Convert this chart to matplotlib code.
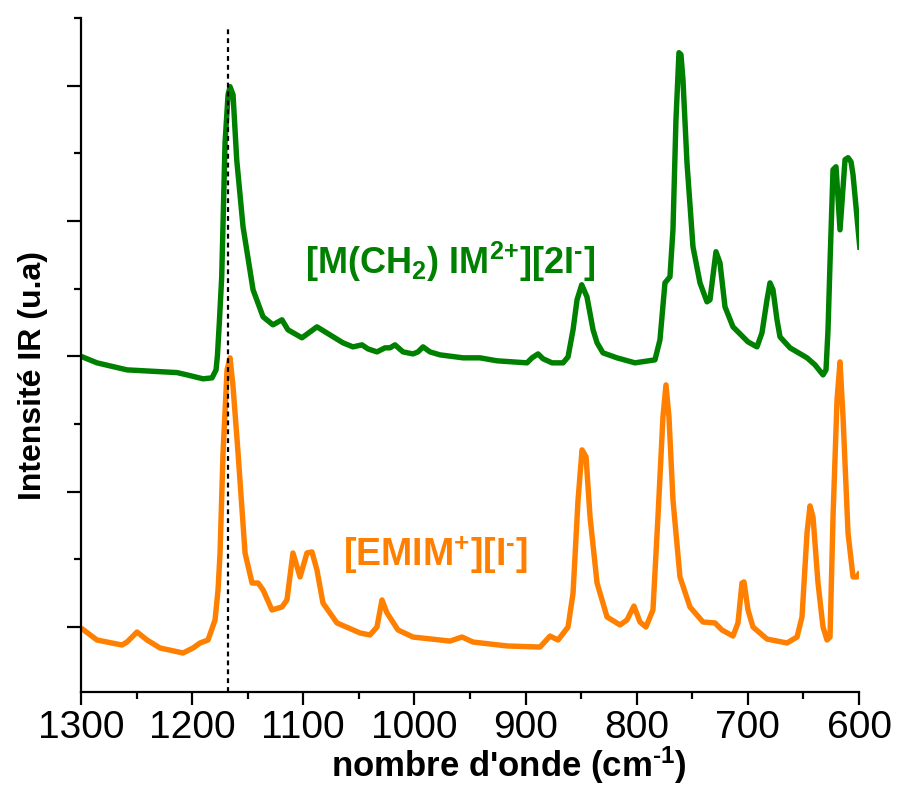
import matplotlib
matplotlib.use("Agg")
import matplotlib.pyplot as plt
from matplotlib.ticker import MultipleLocator, NullFormatter

plt.rcParams['font.family'] = ['Liberation Sans', 'DejaVu Sans']
plt.rcParams['mathtext.fontset'] = 'custom'
plt.rcParams['mathtext.rm'] = 'Liberation Sans:bold'
plt.rcParams['mathtext.bf'] = 'Liberation Sans:bold'
plt.rcParams['mathtext.it'] = 'Liberation Sans:bold'

# ---- data (wavenumber cm-1, intensity a.u.) ----
green_x = [1300, 1285.6, 1258.6, 1213.6, 1204.6, 1190.2, 1182.1, 1178.5, 1177.2, 1175.4,
           1173.4, 1170.4, 1167.7, 1165.9, 1163.2, 1159.9, 1154.2, 1145.2, 1136.2, 1127.3,
           1119.2, 1113.8, 1101.2, 1087.7, 1076.0, 1064.3, 1055.3, 1047.2, 1041.8, 1033.7,
           1026.5, 1022.0, 1017.5, 1010.3, 1001.3, 996.8, 992.3, 986.0, 977.0, 956.3,
           941.0, 925.7, 898.7, 894.2, 888.8, 884.3, 876.2, 866.3, 861.8, 857.3,
           853.7, 849.5, 844.8, 839.3, 835.7, 830.4, 817.8, 801.6, 783.6, 779.1,
           774.6, 770.1, 767.4, 764.7, 762.0, 760.2, 758.4, 754.8, 749.4, 743.1,
           736.8, 734.1, 728.7, 725.1, 720.6, 713.4, 699.9, 691.8, 687.3, 682.8,
           680.1, 677.4, 673.8, 671.1, 662.1, 646.8, 639.6, 632.4, 629.7, 627.9,
           626.1, 623.4, 620.7, 617.1, 612.6, 609.9, 607.2, 605.4, 599.1]
green_y = [2.000, 1.952, 1.900, 1.880, 1.863, 1.834, 1.841, 1.900, 2.011, 2.270,
           2.588, 3.579, 3.933, 3.993, 3.933, 3.453, 2.957, 2.492, 2.292, 2.233,
           2.270, 2.196, 2.137, 2.218, 2.159, 2.100, 2.070, 2.085, 2.055, 2.033,
           2.063, 2.063, 2.085, 2.033, 2.018, 2.033, 2.070, 2.033, 2.011, 1.989,
           1.989, 1.967, 1.952, 1.989, 2.018, 1.982, 1.952, 1.952, 1.996, 2.196,
           2.418, 2.529, 2.440, 2.196, 2.100, 2.026, 1.989, 1.952, 1.974, 2.122,
           2.543, 2.588, 2.935, 3.749, 4.244, 4.229, 4.044, 3.431, 2.810, 2.543,
           2.403, 2.418, 2.773, 2.691, 2.366, 2.218, 2.107, 2.070, 2.174, 2.418,
           2.543, 2.492, 2.270, 2.144, 2.063, 1.989, 1.937, 1.863, 1.900, 2.196,
           2.691, 3.379, 3.401, 2.935, 3.453, 3.468, 3.438, 3.342, 2.787]

orange_x = [1300, 1285.6, 1263.1, 1258.6, 1249.6, 1240.6, 1228.9, 1208.2, 1199.2, 1192.9,
            1185.7, 1179.4, 1176.7, 1174.9, 1172.2, 1168.6, 1165.9, 1163.2, 1158.7, 1152.4,
            1146.1, 1140.7, 1136.2, 1128.2, 1119.2, 1114.7, 1109.3, 1102.9, 1096.7, 1092.2,
            1087.7, 1082.3, 1069.7, 1048.9, 1040.0, 1033.7, 1029.2, 1024.7, 1014.8, 1001.3,
            968.0, 957.2, 947.3, 916.7, 887.0, 878.0, 870.8, 861.8, 857.3, 852.8,
            849.2, 845.6, 842.0, 835.7, 826.7, 815.0, 808.8, 802.5, 797.1, 791.7,
            785.4, 780.9, 776.4, 773.7, 771.0, 767.4, 761.1, 752.1, 740.4, 729.6,
            723.3, 713.4, 708.9, 705.3, 703.5, 699.9, 695.4, 682.8, 664.8, 655.8,
            651.3, 646.8, 644.1, 641.4, 636.9, 632.4, 628.8, 626.1, 623.4, 619.8,
            617.1, 614.4, 609.9, 605.4, 601.8, 599.1]
orange_y = [-0.007, -0.096, -0.133, -0.111, -0.037, -0.096, -0.155, -0.192, -0.155, -0.118,
            -0.096, 0.052, 0.274, 0.547, 1.287, 1.900, 1.989, 1.775, 1.287, 0.547,
            0.325, 0.325, 0.274, 0.126, 0.148, 0.200, 0.547, 0.370, 0.547, 0.555,
            0.421, 0.177, 0.030, -0.044, -0.059, 0.000, 0.200, 0.104, -0.022, -0.074,
            -0.104, -0.074, -0.111, -0.140, -0.148, -0.067, -0.096, 0.000, 0.251, 0.939,
            1.309, 1.257, 0.813, 0.325, 0.074, 0.015, 0.052, 0.155, 0.037, 0.000,
            0.126, 0.813, 1.553, 1.789, 1.553, 0.939, 0.370, 0.148, 0.037, 0.030,
            -0.022, -0.067, 0.030, 0.325, 0.333, 0.126, 0.000, -0.089, -0.118, -0.074,
            0.074, 0.695, 0.895, 0.813, 0.325, 0.000, -0.096, -0.074, 0.813, 1.678,
            1.959, 1.553, 0.695, 0.370, 0.370, 0.407]

green_label = r"[M(CH$_{2}$) IM$^{2\text{+}}$][2I$^{\text{-}}$]"
orange_label = r"[EMIM$^{\text{+}}$][I$^{\text{-}}$]"
x_label = r"nombre d'onde (cm$^{\text{-}1}$)"
y_label = "Intensité IR (u.a)"
ref_line_x = 1167.3
x_major = [1300, 1200, 1100, 1000, 900, 800, 700, 600]

GREEN = "#008000"
ORANGE = "#FF8000"

fig = plt.figure(figsize=(8.98, 7.94), dpi=100)
ax = fig.add_axes([0.0902, 0.1285, 0.8664, 0.8488])

ax.plot(green_x, green_y, color=GREEN, lw=3.9, solid_joinstyle='round', solid_capstyle='butt')
ax.plot(orange_x, orange_y, color=ORANGE, lw=3.9, solid_joinstyle='round', solid_capstyle='butt')
ax.plot([ref_line_x, ref_line_x], [-0.48, 4.436], color='black', lw=1.6,
        linestyle=(0, (2.2, 1.8)))

ax.set_xlim(1300, 600)
ax.set_ylim(-0.48, 4.5)

for s in ['top', 'right']:
    ax.spines[s].set_visible(False)
for s in ['left', 'bottom']:
    ax.spines[s].set_linewidth(1.6)

ax.set_xticks(x_major)
ax.xaxis.set_minor_locator(MultipleLocator(50))
ax.yaxis.set_major_locator(MultipleLocator(1))
ax.yaxis.set_minor_locator(MultipleLocator(0.5))
ax.yaxis.set_major_formatter(NullFormatter())
ax.tick_params(axis='x', which='major', length=9, width=1.6, labelsize=28, pad=4)
ax.tick_params(axis='x', which='minor', length=5, width=1.6)
ax.tick_params(axis='y', which='major', length=10, width=1.6)
ax.tick_params(axis='y', which='minor', length=5, width=1.6)

ax.set_xlabel(x_label, fontsize=25, fontweight='bold')
ax.xaxis.set_label_coords(0.55, -0.078)
ax.set_ylabel(y_label, fontsize=23, fontweight='bold')
ax.yaxis.set_label_coords(-0.042, 0.47)

ax.text(1098.5, 2.61, green_label, color=GREEN, fontsize=26, fontweight='bold',
        ha='left', va='baseline')
ax.text(1064.3, 0.45, orange_label, color=ORANGE, fontsize=27, fontweight='bold',
        ha='left', va='baseline')

fig.savefig("out.png", dpi=100)
